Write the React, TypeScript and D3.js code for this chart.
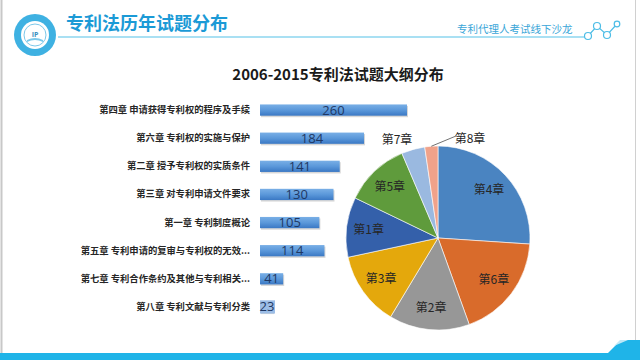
import React from "react";
import * as d3 from "d3";

const categories = [
  "第四章 申请获得专利权的程序及手续",
  "第六章 专利权的实施与保护",
  "第二章 授予专利权的实质条件",
  "第三章 对专利申请文件要求",
  "第一章 专利制度概论",
  "第五章 专利申请的复审与专利权的无效...",
  "第七章 专利合作条约及其他与专利相关...",
  "第八章 专利文献与专利分类",
];
const values = [260, 184, 141, 130, 105, 114, 41, 23];
const pieLabels = ["第4章", "第6章", "第2章", "第3章", "第1章", "第5章", "第7章", "第8章"];
const pieColors = ["#4a84c1", "#d96b2b", "#979797", "#e4a80c", "#3460aa", "#5f9b3c", "#9ab9e0", "#f0a28a"];

const W = 640;
const H = 360;
const CJK = "'Noto Sans CJK SC', 'Noto Sans', sans-serif";
const NUM = "'Open Sans', 'Liberation Sans', sans-serif";

export default function App() {
  // bars
  const y = d3.scaleBand<number>().domain(d3.range(values.length)).range([96, 321]).paddingInner(0.6).paddingOuter(0.3);
  const x = d3.scaleLinear().domain([0, 260]).range([260, 407]);

  // pie
  const cx = 438, cy = 238, r = 92;
  const pie = d3.pie<number>().sort(null).value((d) => d)(values);
  const arc = d3.arc<d3.PieArcDatum<number>>().innerRadius(0).outerRadius(r);
  const labelArc = d3.arc<d3.PieArcDatum<number>>().innerRadius(r * 0.76).outerRadius(r * 0.76);
  const outside: Record<number, [number, number]> = { 6: [-41, -98], 7: [32, -99] };

  return (
    <svg width={W} height={H} style={{ position: "fixed", left: 0, top: 0, background: "#fff" }}>
      <defs>
        <linearGradient id="barG" x1="0" y1="0" x2="0" y2="1">
          <stop offset="0" stopColor="#79afe6" />
          <stop offset="0.5" stopColor="#5b98da" />
          <stop offset="1" stopColor="#3a78c4" />
        </linearGradient>
      </defs>
      {/* frame */}
      <line x1={1.5} y1={0} x2={1.5} y2={353} stroke="#c8c8c8" strokeWidth={2} />
      <line x1={635.5} y1={0} x2={635.5} y2={353} stroke="#d0d0d0" strokeWidth={1} />
      {/* header */}
      <circle cx={35} cy={35} r={21} fill="#3eb1e2" />
      <circle cx={35} cy={35} r={14} fill="#fff" />
      <circle cx={35} cy={35} r={11} fill="none" stroke="#7cc8ea" strokeWidth={1} />
      <path d="M27,40 Q35,36 43,40 L43,42 Q35,38 27,42 Z" fill="#7cc8ea" />
      <text x={35} y={37} textAnchor="middle" fontSize={7} fontWeight="bold" fill="#3b8fc0" fontFamily={NUM}>IP</text>
      <text x={66} y={30} fontSize={18} fontWeight="bold" fill="#1b9ad6" fontFamily={CJK}>专利法历年试题分布</text>
      <line x1={58} y1={37} x2={586} y2={37} stroke="#55c2e8" strokeWidth={1.2} />
      <text x={457} y={33} fontSize={10.5} fill="#3aa6d8" fontFamily={CJK}>专利代理人考试线下沙龙</text>
      <g fill="#fff" stroke="#4dbde6" strokeWidth={1.2}>
        <polyline points="588,36 597,26 607,35 617,24" fill="none" />
        <circle cx={588} cy={36} r={3.5} />
        <circle cx={597} cy={26} r={3.5} />
        <circle cx={607} cy={35} r={3.5} />
        <circle cx={617} cy={24} r={2.8} />
      </g>
      {/* footer */}
      <rect x={0} y={353} width={W} height={7} fill="#1fb4e8" />
      <polygon points="608,353 621,340 640,340 640,353" fill="#1fb4e8" />
      <polygon points="614,346 620,340 628,340" fill="#bfe8f7" />
      {/* chart title */}
      <text x={338} y={80} textAnchor="middle" fontSize={15} fontWeight="bold" fill="#1a1a1a" fontFamily={CJK}>2006-2015专利法试题大纲分布</text>
      {/* bars */}
      {values.map((v, i) => {
        const yy = y(i)!;
        const bw = x(v) - x(0);
        return (
          <g key={i}>
            <text x={250} y={yy + y.bandwidth() / 2 + 3} textAnchor="end" fontSize={9.3} fontWeight="bold" fill="#262626" fontFamily={CJK}>{categories[i]}</text>
            <rect x={x(0) + 1} y={yy + 1.5} width={bw} height={y.bandwidth()} fill="#b0b0b0" opacity={0.5} />
            <rect x={x(0)} y={yy} width={bw} height={y.bandwidth()} fill="url(#barG)" />
            {v < 30 && <rect x={x(0)} y={yy - 1} width={15} height={y.bandwidth() + 2} fill="#9cbde6" />}
            <text x={v < 30 ? x(0) + 7 : (x(0) + x(v)) / 2} y={yy + y.bandwidth() / 2 + 4.5} textAnchor="middle" fontSize={13} fill="#1f3864" fontFamily={NUM}>{v}</text>
          </g>
        );
      })}
      {/* pie */}
      <g transform={`translate(${cx},${cy})`}>
        {pie.map((p, i) => (
          <path key={i} d={arc(p)!} fill={pieColors[i]} stroke="#fff" strokeWidth={0.6} />
        ))}
        {pie.map((p, i) => {
          if (outside[i]) {
            const [lx, ly] = outside[i];
            return (
              <g key={"l" + i}>
                {i === 7 && (() => {
                  const ang = (p.startAngle + p.endAngle) / 2;
                  const ex = Math.sin(ang) * r, ey = -Math.cos(ang) * r;
                  return <polyline points={`${ex},${ey} ${lx - 14},${ly - 3} ${lx - 14},${ly - 3}`} fill="none" stroke="#333" strokeWidth={0.7} />;
                })()}
                <text x={lx} y={ly + 4} textAnchor="middle" fontSize={12} fill="#262626" fontFamily={CJK}>{pieLabels[i]}</text>
              </g>
            );
          }
          const [lx, ly] = labelArc.centroid(p);
          return (
            <text key={"l" + i} x={lx} y={ly + 4} textAnchor="middle" fontSize={12} fill="#262626" fontFamily={CJK}>{pieLabels[i]}</text>
          );
        })}
      </g>
    </svg>
  );
}
